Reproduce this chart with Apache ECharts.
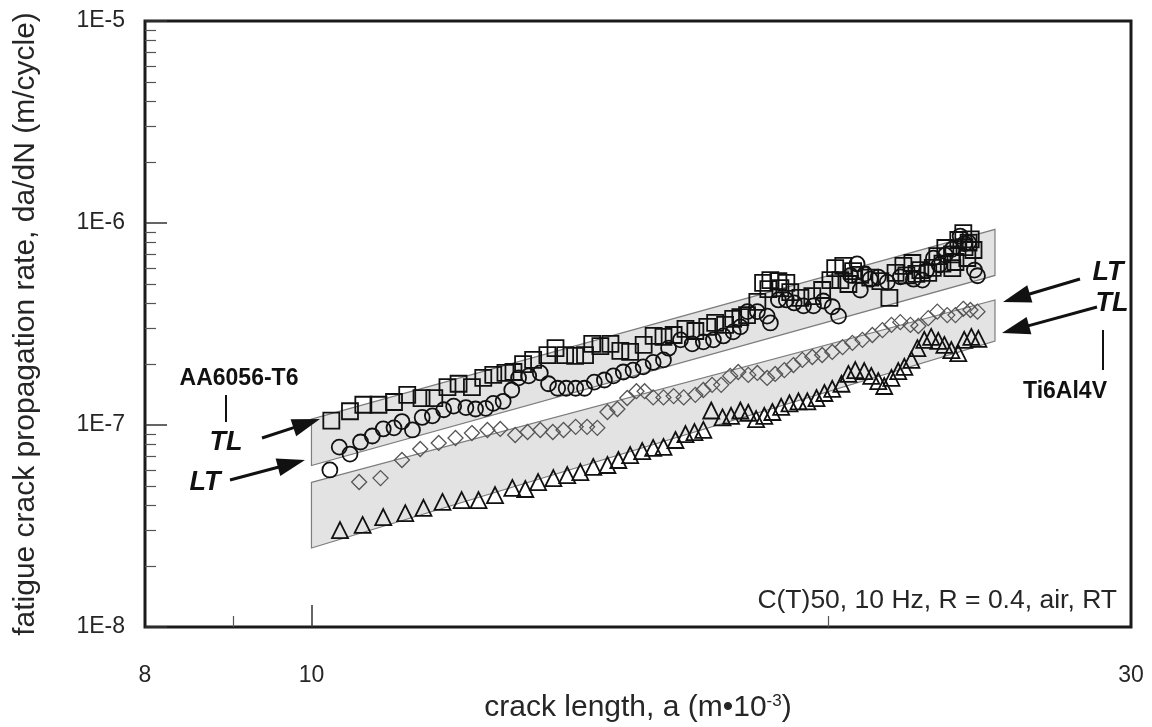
<!DOCTYPE html>
<html>
<head>
<meta charset="utf-8">
<title>fatigue crack propagation</title>
<script src="https://cdn.jsdelivr.net/npm/echarts@6/dist/echarts.min.js"></script>
<style>
html, body { margin: 0; padding: 0; background: #fff; }
#main { width: 1152px; height: 727px; }
</style>
</head>
<body>
<div id="main"></div>
<script>
// axis ticks / labels
var xLabelValues = [8, 10, 30];
var xMajorTicks = [10];
var xMinorTicks = [9, 20];
var yLabelValues = [1e-8, 1e-7, 1e-6, 1e-5];
var yLabelTexts = ['1E-8', '1E-7', '1E-6', '1E-5'];
var yMinorTicks = [2e-8, 3e-8, 4e-8, 5e-8, 6e-8, 7e-8, 8e-8, 9e-8,
    2e-7, 3e-7, 4e-7, 5e-7, 6e-7, 7e-7, 8e-7, 9e-7,
    2e-6, 3e-6, 4e-6, 5e-6, 6e-6, 7e-6, 8e-6, 9e-6];

// scatter bands: [x0, top0, bottom0, x1, top1, bottom1]
var bandAA = [10, 1.07e-7, 6.3e-8, 25, 9.3e-7, 5.5e-7];
var bandTi = [10, 5.2e-8, 2.46e-8, 25, 4.16e-7, 2.6e-7];

// AA6056-T6, TL (squares)
var aaTL = [[10.27,1.05e-7],[10.53,1.17e-7],[10.72,1.26e-7],[10.94,1.26e-7],[11.17,1.30e-7],[11.37,1.41e-7],[11.59,1.36e-7],[11.79,1.36e-7],
    [12.00,1.54e-7],[12.18,1.60e-7],[12.40,1.54e-7],[12.59,1.71e-7],[12.76,1.77e-7],[12.97,1.81e-7],[13.11,1.83e-7],[13.28,2.00e-7],
    [13.46,2.10e-7],[13.72,2.22e-7],[13.87,2.40e-7],[14.05,2.22e-7],[14.24,2.20e-7],[14.43,2.22e-7],[14.57,2.52e-7],[14.73,2.46e-7],
    [14.93,2.52e-7],[15.13,2.33e-7],[15.33,2.30e-7],[15.61,2.49e-7],[15.82,2.76e-7],[16.03,2.73e-7],[16.25,2.79e-7],[16.51,2.99e-7],
    [16.73,2.92e-7],[17.00,3.06e-7],[17.18,3.20e-7],[17.41,3.13e-7],[17.60,3.35e-7],[17.77,3.42e-7],[17.93,3.50e-7],[18.18,4.07e-7],
    [18.32,5.05e-7],[18.50,5.22e-7],[18.70,5.16e-7],[18.90,5.05e-7],[18.45,4.71e-7],[18.75,4.76e-7],[19.00,4.55e-7],[19.26,4.26e-7],
    [19.57,4.35e-7],[19.83,4.66e-7],[20.05,5.22e-7],[20.18,5.98e-7],[20.40,6.13e-7],[20.67,5.78e-7],[20.32,5.22e-7],[20.54,4.99e-7],
    [20.87,5.53e-7],[21.15,5.37e-7],[21.44,5.16e-7],[21.70,4.26e-7],[21.88,5.66e-7],[22.11,6.13e-7],[22.38,6.34e-7],[22.62,5.85e-7],
    [22.86,5.66e-7],[23.14,6.86e-7],[23.39,7.52e-7],[23.61,5.98e-7],[23.80,8.24e-7],[23.96,8.92e-7],[24.13,8.0e-7],[24.29,7.35e-7],
    [24.09,6.71e-7],[23.71,6.41e-7],[22.20,5.50e-7],[22.50,5.60e-7],[23.00,6.00e-7],[23.30,6.30e-7],[23.60,7.00e-7],[24.00,7.60e-7],
    [24.20,8.30e-7]];

// AA6056-T6, LT (circles)
var aaLT = [[10.25,5.99e-8],[10.38,7.77e-8],[10.53,7.18e-8],[10.68,8.24e-8],[10.85,8.82e-8],[11.01,9.56e-8],[11.17,9.68e-8],[11.29,1.04e-7],
    [11.45,9.45e-8],[11.60,1.09e-7],[11.76,1.11e-7],[11.94,1.19e-7],[12.10,1.24e-7],[12.30,1.22e-7],[12.46,1.20e-7],[12.63,1.21e-7],
    [12.76,1.28e-7],[12.93,1.31e-7],[13.08,1.49e-7],[13.20,1.71e-7],[13.38,1.75e-7],[13.59,1.81e-7],[13.74,1.60e-7],[13.91,1.52e-7],
    [14.07,1.52e-7],[14.25,1.52e-7],[14.42,1.52e-7],[14.61,1.63e-7],[14.81,1.67e-7],[14.99,1.75e-7],[15.19,1.83e-7],[15.39,1.87e-7],
    [15.60,1.94e-7],[15.81,2.04e-7],[16.03,2.10e-7],[16.14,2.40e-7],[16.40,2.64e-7],[16.66,2.52e-7],[16.91,2.58e-7],[17.14,2.64e-7],
    [17.37,2.76e-7],[17.60,2.89e-7],[17.77,3.06e-7],[17.94,3.64e-7],[18.18,3.64e-7],[18.42,3.46e-7],[18.50,3.20e-7],[18.70,4.16e-7],
    [18.90,4.16e-7],[19.10,4.02e-7],[19.34,3.89e-7],[19.60,3.89e-7],[19.86,4.11e-7],[20.10,3.85e-7],[20.27,3.46e-7],[20.78,6.27e-7],
    [20.87,4.66e-7],[21.15,5.27e-7],[21.38,5.40e-7],[21.64,5.10e-7],[22.02,5.41e-7],[22.41,5.27e-7],[22.68,5.22e-7],[23.02,6.70e-7],
    [23.39,6.94e-7],[23.86,8.62e-7],[24.13,8.0e-7],[24.32,5.85e-7],[24.42,5.48e-7],[22.80,5.80e-7],[23.20,6.20e-7],[23.60,7.40e-7],
    [24.00,7.90e-7],[21.00,5.60e-7],[20.60,5.50e-7]];

// Ti6Al4V, LT (diamonds)
var tiLT = [[10.66,5.22e-8],[10.97,5.46e-8],[11.29,6.71e-8],[11.57,7.61e-8],[11.86,8.15e-8],[12.13,8.62e-8],[12.40,9.12e-8],[12.66,9.45e-8],
    [12.88,9.56e-8],[13.14,8.92e-8],[13.36,9.23e-8],[13.59,9.45e-8],[13.82,9.23e-8],[14.02,9.45e-8],[14.25,9.79e-8],[14.47,9.79e-8],
    [14.67,9.68e-8],[14.87,1.16e-7],[15.07,1.20e-7],[15.27,1.36e-7],[15.46,1.47e-7],[15.63,1.47e-7],[15.81,1.37e-7],[16.03,1.37e-7],
    [16.25,1.39e-7],[16.47,1.37e-7],[16.73,1.41e-7],[16.91,1.49e-7],[17.11,1.58e-7],[17.32,1.58e-7],[17.53,1.75e-7],[17.72,1.83e-7],
    [17.96,1.77e-7],[18.18,1.81e-7],[18.42,1.71e-7],[18.62,1.79e-7],[18.85,1.87e-7],[19.08,1.98e-7],[19.31,2.10e-7],[19.57,2.17e-7],
    [19.83,2.22e-7],[20.10,2.30e-7],[20.38,2.43e-7],[20.65,2.55e-7],[20.93,2.64e-7],[21.21,2.79e-7],[21.50,2.95e-7],[21.76,3.13e-7],
    [22.02,3.23e-7],[22.32,3.13e-7],[22.56,3.09e-7],[22.86,3.38e-7],[23.14,3.64e-7],[23.45,3.50e-7],[23.71,3.50e-7],[23.96,3.76e-7],
    [24.19,3.71e-7],[24.42,3.64e-7]];

// Ti6Al4V, TL (triangles)
var tiTL = [[10.39,3.02e-8],[10.71,3.20e-8],[11.01,3.50e-8],[11.34,3.66e-8],[11.62,3.89e-8],[11.92,4.16e-8],[12.23,4.25e-8],[12.51,4.25e-8],
    [12.79,4.50e-8],[13.09,4.88e-8],[13.32,4.82e-8],[13.55,5.22e-8],[13.83,5.46e-8],[14.09,5.65e-8],[14.34,5.85e-8],[14.59,6.20e-8],
    [14.87,6.34e-8],[15.09,6.71e-8],[15.33,7.10e-8],[15.58,7.43e-8],[15.81,7.70e-8],[16.03,7.79e-8],[16.29,8.43e-8],[16.51,9.02e-8],
    [16.71,9.23e-8],[16.91,9.45e-8],[17.09,1.18e-7],[17.35,1.09e-7],[17.55,1.11e-7],[17.77,1.18e-7],[17.96,1.15e-7],[18.15,1.07e-7],
    [18.35,1.11e-7],[18.55,1.16e-7],[18.77,1.23e-7],[18.98,1.28e-7],[19.21,1.31e-7],[19.44,1.31e-7],[19.68,1.36e-7],[19.89,1.44e-7],
    [20.10,1.51e-7],[20.35,1.60e-7],[20.54,1.79e-7],[20.73,1.87e-7],[20.98,1.85e-7],[21.18,1.75e-7],[21.38,1.65e-7],[21.55,1.56e-7],
    [21.76,1.71e-7],[21.96,1.85e-7],[22.14,1.94e-7],[22.35,2.10e-7],[22.53,2.40e-7],[22.74,2.64e-7],[22.95,2.73e-7],[23.17,2.61e-7],
    [23.36,2.49e-7],[23.58,2.35e-7],[23.80,2.27e-7],[23.99,2.64e-7],[24.22,2.73e-7],[24.45,2.67e-7]];

var FONT = 'Liberation Sans, Arial, sans-serif';
var TXT = '#262626';

// 箭头: 直线 + 实心三角
function arrow(x1, y1, x2, y2) {
    var dx = x2 - x1, dy = y2 - y1;
    var len = Math.sqrt(dx * dx + dy * dy);
    var ux = dx / len, uy = dy / len;
    var hl = 28, hw = 9;
    var bx = x2 - ux * hl, by = y2 - uy * hl;
    return [
        { type: 'line', z: 100, shape: { x1: x1, y1: y1, x2: bx + ux * 2, y2: by + uy * 2 }, style: { stroke: '#111', lineWidth: 3 } },
        { type: 'polygon', z: 100, shape: { points: [[x2, y2], [bx - uy * hw, by + ux * hw], [bx + uy * hw, by - ux * hw]] }, style: { fill: '#111' } }
    ];
}

function label(text, x, y, size, italic, align) {
    return {
        type: 'text', z: 100, x: x, y: y,
        style: {
            text: text, fill: '#111', font: (italic ? 'italic ' : '') + 'bold ' + size + 'px ' + FONT,
            align: align || 'center', verticalAlign: 'middle'
        }
    };
}

function bandSeries(band) {
    return {
        type: 'custom',
        silent: true,
        z: 1,
        data: [band],
        encode: { x: [0, 3], y: [1, 2, 4, 5] },
        renderItem: function (params, api) {
            var p1 = api.coord([api.value(0), api.value(1)]);
            var p2 = api.coord([api.value(3), api.value(4)]);
            var p3 = api.coord([api.value(3), api.value(5)]);
            var p4 = api.coord([api.value(0), api.value(2)]);
            return {
                type: 'polygon',
                shape: { points: [p1, p2, p3, p4] },
                style: { fill: '#e3e3e3', stroke: '#7d7d7d', lineWidth: 1.2 }
            };
        }
    };
}

function markerSeries(name, data, symbol, size, color, width) {
    return {
        name: name,
        type: 'scatter',
        z: 3,
        silent: true,
        symbol: symbol,
        symbolSize: size,
        data: data,
        itemStyle: { color: 'rgba(0,0,0,0)', borderColor: color, borderWidth: width, opacity: 1 }
    };
}

var graphics = []
    .concat(arrow(262, 438, 320, 419))
    .concat(arrow(230, 480, 305, 460))
    .concat(arrow(1080, 279, 1003, 302))
    .concat(arrow(1097, 307, 1002, 333));
graphics.push(label('AA6056-T6', 239, 379, 23));
graphics.push({ type: 'line', z: 100, shape: { x1: 226, y1: 395, x2: 226, y2: 422 }, style: { stroke: '#111', lineWidth: 2 } });
graphics.push(label('TL', 226, 443, 27, true));
graphics.push(label('LT', 205, 483, 27, true));
graphics.push(label('LT', 1108, 273, 27, true));
graphics.push(label('TL', 1112, 304, 27, true));
graphics.push({ type: 'line', z: 100, shape: { x1: 1103, y1: 330, x2: 1103, y2: 370 }, style: { stroke: '#111', lineWidth: 2 } });
graphics.push(label('Ti6Al4V', 1065, 392, 23));
graphics.push({
    type: 'text', z: 100, x: 1117, y: 601,
    style: { text: 'C(T)50, 10 Hz, R = 0.4, air, RT', fill: TXT, font: '26.5px ' + FONT, align: 'right', verticalAlign: 'middle' }
});

var chart = echarts.init(document.getElementById('main'));
var option = {
    animation: false,
    backgroundColor: '#fff',
    textStyle: { fontFamily: FONT },
    grid: {
        left: 145, right: 21, top: 21, bottom: 100,
        show: true, borderColor: '#1a1a1a', borderWidth: 3,
        outerBoundsMode: 'none'
    },
    xAxis: [{
        type: 'log', logBase: 10, min: 8, max: 30,
        name: 'crack length, a (m\u202210{sup|-3})',
        nameLocation: 'middle', nameGap: 66,
        nameTextStyle: {
            color: TXT, fontSize: 30,
            rich: { sup: { fontSize: 17, verticalAlign: 'top', padding: [0, 0, 13, 0] } }
        },
        axisLine: { show: false },
        splitLine: { show: false },
        axisTick: { inside: true, length: 22, customValues: xMajorTicks, lineStyle: { color: '#333', width: 1.5 } },
        axisLabel: { customValues: xLabelValues, margin: 37, fontSize: 23, color: TXT }
    }, {
        type: 'log', logBase: 10, min: 8, max: 30, position: 'bottom',
        axisLine: { show: false },
        splitLine: { show: false },
        axisTick: { inside: true, length: 11, customValues: xMinorTicks, lineStyle: { color: '#555', width: 1.2 } },
        axisLabel: { show: false }
    }],
    yAxis: [{
        type: 'log', logBase: 10, min: 1e-8, max: 1e-5,
        name: 'fatigue crack propagation rate, da/dN (m/cycle)',
        nameLocation: 'middle', nameGap: 104,
        nameTextStyle: { color: TXT, fontSize: 30 },
        axisLine: { show: false },
        splitLine: { show: false },
        axisTick: { inside: true, length: 22, customValues: yLabelValues, lineStyle: { color: '#333', width: 1.5 } },
        axisLabel: {
            customValues: yLabelValues, margin: 20, fontSize: 23, color: TXT,
            formatter: function (v) {
                var i = yLabelValues.indexOf(v);
                if (i < 0) {
                    i = Math.round(Math.log10(v)) + 8;
                }
                return yLabelTexts[i];
            }
        }
    }, {
        type: 'log', logBase: 10, min: 1e-8, max: 1e-5, position: 'left', offset: 0,
        axisLine: { show: false },
        splitLine: { show: false },
        axisTick: { inside: true, length: 11, customValues: yMinorTicks, lineStyle: { color: '#555', width: 1.2 } },
        axisLabel: { show: false }
    }],
    graphic: graphics,
    series: [
        bandSeries(bandAA),
        bandSeries(bandTi),
        markerSeries('Ti6Al4V TL', tiTL, 'triangle', 16, '#111', 1.8),
        markerSeries('Ti6Al4V LT', tiLT, 'diamond', 15, '#555', 1.3),
        markerSeries('AA6056-T6 LT', aaLT, 'circle', 15, '#111', 1.8),
        markerSeries('AA6056-T6 TL', aaTL, 'rect', 16, '#111', 1.8)
    ]
};
chart.setOption(option);
</script>
</body>
</html>
